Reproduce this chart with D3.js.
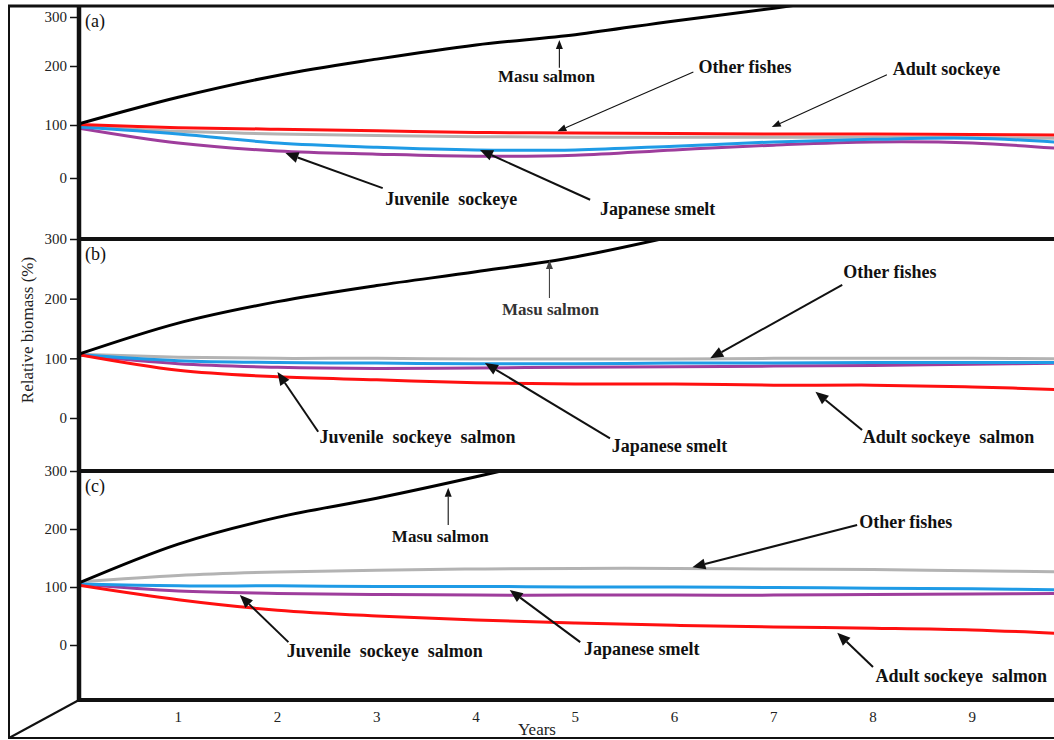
<!DOCTYPE html>
<html><head><meta charset="utf-8">
<script src="https://cdn.jsdelivr.net/npm/d3@7"></script>
<style>
body{margin:0;background:#fff}
svg{display:block}
text{font-family:"Liberation Serif","Times New Roman",serif}
</style>
</head><body>
<svg id="chart" width="1054" height="740"></svg>
<script>
// ---------- data ----------
const years = [0,1,2,3,4,5,6,7,8,9,10];
const yTicks = [0,100,200,300];
const xTicks = [1,2,3,4,5,6,7,8,9];
const panelLabels = ["(a)","(b)","(c)"];
const seriesKeys = ["other","juvenile","smelt","adult","masu"];
const seriesColors = ["#b3b3b3","#9e3d9c","#1f9be6","#ff1010","#000000"];

// panel (a)
const aMasu     = [102,147,184,214,243,264,292,318,347,null,null];
const aAdult    = [101,95,92,89,86,85,84,83,83,82,81];
const aOther    = [97,88,83,80,78,77,77,77,77,76,75];
const aSmelt    = [96,83,66,58,53,53,60,68,73,75,66];
const aJuvenile = [94,66,51,45,41,43,53,62,68,66,54];

// panel (b)
const bMasu     = [107,159,195,222,245,270,305,null,null,null,null];
const bAdult    = [106,80,69,64,59,57,57,55,55,52,47];
const bOther    = [107,102,100,100,99,99,99,100,100,100,99];
const bSmelt    = [106,96,93,92,91,91,92,92,93,93,93];
const bJuvenile = [106,91,85,83,84,85,86,87,88,90,92];

// panel (c)
const cMasu     = [107,174,220,253,290,330,null,null,null,null,null];
const cAdult    = [103,78,60,50,43,38,34,31,29,26,19];
const cOther    = [109,120,126,129,131,132,132,131,130,128,126];
const cSmelt    = [105,102,102,101,101,100,100,99,98,97,95];
const cJuvenile = [105,93,89,87,86,86,86,86,87,88,89];

// annotations: tip / tail / label anchor in data units (year, %)
const aNotes = [
  {text:"Masu salmon", tip:[4.84,253], tail:[4.84,197], at:[4.71,173], thin:true},
  {text:"Other fishes", tip:[4.82,88], tail:[6.19,190], at:[6.71,188], thin:true},
  {text:"Adult sockeye", tip:[6.98,96], tail:[8.14,185], at:[8.74,185], thin:true},
  {text:"Juvenile  sockeye", tip:[2.08,47], tail:[3.06,-19], at:[3.75,-51]},
  {text:"Japanese smelt", tip:[4.04,53], tail:[5.15,-41], at:[5.83,-69]}
];
const bNotes = [
  {text:"Masu salmon", tip:[4.74,265], tail:[4.74,201], at:[4.75,173], thin:true, grey:true},
  {text:"Other fishes", tip:[6.36,100], tail:[7.69,223], at:[8.17,235]},
  {text:"Juvenile  sockeye  salmon", tip:[2.0,77], tail:[2.41,-23], at:[3.41,-42]},
  {text:"Japanese smelt", tip:[4.09,92], tail:[5.35,-34], at:[5.95,-57]},
  {text:"Adult sockeye  salmon", tip:[7.42,44], tail:[7.89,-20], at:[8.76,-42]}
];
const cNotes = [
  {text:"Masu salmon", tip:[3.72,271], tail:[3.72,207], at:[3.64,178], thin:true},
  {text:"Other fishes", tip:[6.18,134], tail:[7.84,207], at:[8.33,202]},
  {text:"Juvenile  sockeye  salmon", tip:[1.62,86], tail:[2.11,5], at:[3.08,-21]},
  {text:"Japanese smelt", tip:[4.34,95], tail:[5.05,5], at:[5.67,-17]},
  {text:"Adult sockeye  salmon", tip:[7.64,21], tail:[8.0,-38], at:[8.89,-64]}
];

// ---------- layout ----------
const svg = d3.select("#chart");
const W = 1054, H = 740;
const axisX = 79;
const x = d3.scaleLinear().domain([0,10]).range([axisX, 1071.5]);

const panels = [
  {label:panelLabels[0], top:6,   bottom:239, yd:yTicks, yr:[178,125,66,17], data:{other:aOther,juvenile:aJuvenile,smelt:aSmelt,adult:aAdult,masu:aMasu}, notes:aNotes},
  {label:panelLabels[1], top:239, bottom:471, yd:[0,300], yr:[418,239], data:{other:bOther,juvenile:bJuvenile,smelt:bSmelt,adult:bAdult,masu:bMasu}, notes:bNotes},
  {label:panelLabels[2], top:471, bottom:700, yd:[0,300], yr:[645,471], data:{other:cOther,juvenile:cJuvenile,smelt:cSmelt,adult:cAdult,masu:cMasu}, notes:cNotes}
];

const defs = svg.append("defs");

panels.forEach((p,i) => {
  const y = d3.scaleLinear().domain(p.yd).range(p.yr);
  defs.append("clipPath").attr("id","clip"+i)
    .append("rect").attr("x",axisX).attr("y",p.top).attr("width",W-axisX).attr("height",p.bottom-p.top);
  const g = svg.append("g");
  const lines = g.append("g").attr("clip-path","url(#clip"+i+")");
  const line = d3.line()
    .defined(d => d[1] !== null)
    .x(d => x(d[0])).y(d => y(d[1]))
    .curve(d3.curveCatmullRom.alpha(0.5));
  seriesKeys.forEach((k,j) => {
    const pts = years.map((t,m) => [t, p.data[k][m]]);
    lines.append("path").attr("d", line(pts))
      .attr("fill","none").attr("stroke",seriesColors[j])
      .attr("stroke-width",3).attr("stroke-linecap","round");
  });

  // y axis
  const ax = g.append("g").attr("transform",`translate(${axisX},0)`)
    .call(d3.axisLeft(y).tickValues(yTicks).tickSize(9).tickPadding(3));
  ax.select(".domain").remove();
  ax.selectAll(".tick line").attr("stroke","#111").attr("stroke-width",1.5);
  ax.selectAll(".tick text").attr("font-size",15).attr("fill","#222")
    .style("font-family",'"Liberation Serif","Times New Roman",serif');

  // panel label
  g.append("text").attr("x",85).attr("y",p.top+21).attr("font-size",18).attr("fill","#111").text(p.label);

  // annotations
  p.notes.forEach(n => {
    const tx = x(n.tip[0]), ty = y(n.tip[1]);
    const sx = x(n.tail[0]), sy = y(n.tail[1]);
    const L = n.thin ? 9 : 13, hw = n.thin ? 3.5 : 5.5;
    const dx = tx-sx, dy = ty-sy, len = Math.hypot(dx,dy);
    const ux = dx/len, uy = dy/len;
    const bx = tx-ux*L, by = ty-uy*L;
    const col = n.grey ? "#444" : "#111";
    g.append("line").attr("x1",sx).attr("y1",sy).attr("x2",bx).attr("y2",by)
      .attr("stroke",col).attr("stroke-width", n.thin ? 1.1 : 2);
    g.append("polygon")
      .attr("points",[[tx,ty],[bx-uy*hw,by+ux*hw],[bx+uy*hw,by-ux*hw]].map(q=>q.join(",")).join(" "))
      .attr("fill",col);
    g.append("text").attr("x",x(n.at[0])).attr("y",y(n.at[1]))
      .attr("text-anchor","middle").attr("font-size", n.text==="Masu salmon" ? 17 : 18)
      .attr("font-weight","bold").attr("fill", n.grey ? "#333" : "#111")
      .style("white-space","pre").text(n.text);
  });
});

// frame
const frame = svg.append("g").attr("stroke","#111").attr("fill","none");
frame.append("line").attr("x1",9).attr("y1",5).attr("x2",9).attr("y2",739).attr("stroke-width",2);
frame.append("line").attr("x1",8).attr("y1",6).attr("x2",W).attr("y2",6).attr("stroke-width",3);
frame.append("line").attr("x1",8).attr("y1",738).attr("x2",W).attr("y2",738).attr("stroke-width",2);
frame.append("line").attr("x1",axisX).attr("y1",700).attr("x2",9).attr("y2",738).attr("stroke-width",2);
[239,471,700].forEach(yy => {
  frame.append("line").attr("x1",axisX-2).attr("y1",yy).attr("x2",W).attr("y2",yy).attr("stroke-width",4);
});
frame.append("line").attr("x1",axisX).attr("y1",5).attr("x2",axisX).attr("y2",702).attr("stroke-width",4.5);

// x tick labels
svg.append("g").selectAll("text").data(xTicks).join("text")
  .attr("x",d=>x(d)).attr("y",722).attr("text-anchor","middle")
  .attr("font-size",15).attr("fill","#222").text(d=>d);

// axis titles
svg.append("text").attr("x",537).attr("y",735).attr("text-anchor","middle")
  .attr("font-size",17).attr("fill","#222").text("Years");
svg.append("text").attr("transform","translate(33,330) rotate(-90)").attr("text-anchor","middle")
  .attr("font-size",17).attr("fill","#222").text("Relative biomass (%)");
</script>
</body></html>
